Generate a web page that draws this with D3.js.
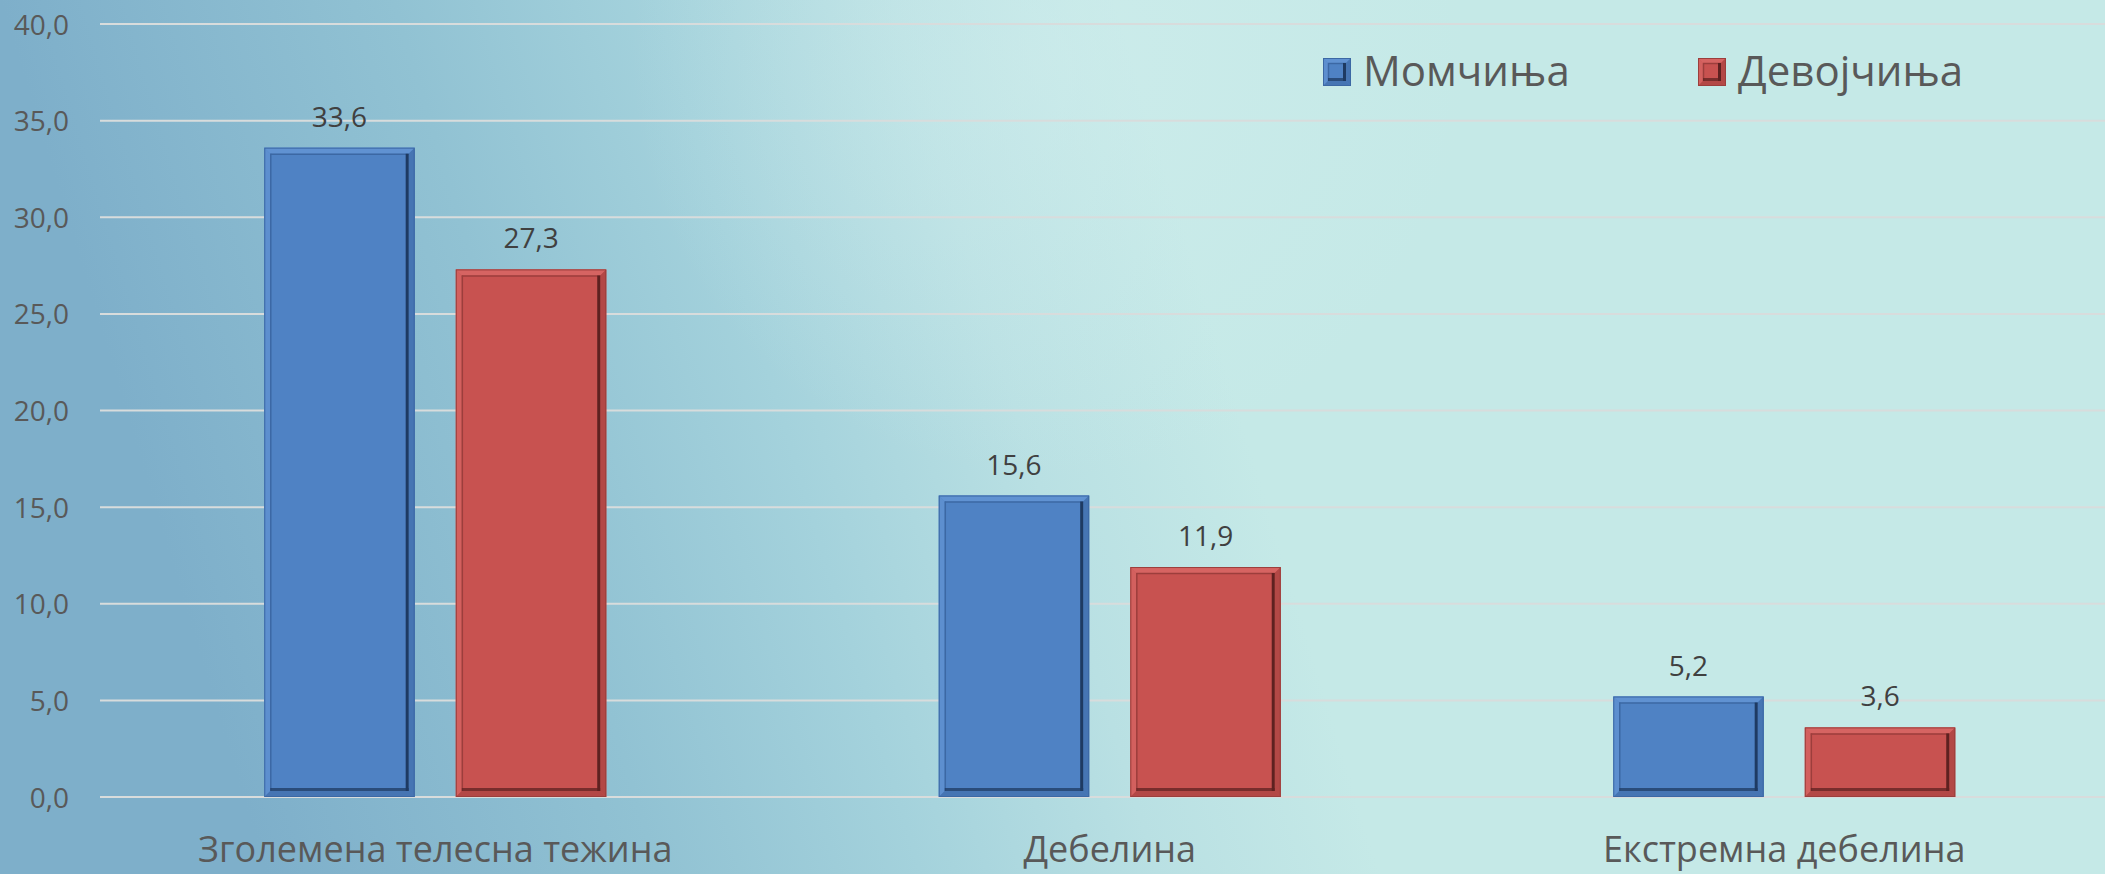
<!DOCTYPE html>
<html>
<head>
<meta charset="utf-8">
<script src="https://cdn.jsdelivr.net/npm/d3@7"></script>
<style>
  html, body { margin: 0; padding: 0; overflow: hidden; }
  svg { display: block; }
  text { font-family: "Open Sans", "Noto Sans", sans-serif; }
</style>
</head>
<body>
<svg id="chart" width="2105" height="874"></svg>
<script>
const categories = ["Зголемена телесна тежина", "Дебелина", "Екстремна дебелина"];
const seriesNames = ["Момчиња", "Девојчиња"];
const boys = [33.6, 15.6, 5.2];
const girls = [27.3, 11.9, 3.6];
const yTicks = [0, 5, 10, 15, 20, 25, 30, 35, 40];

const seriesValues = [boys, girls];
const colors = {
  "Момчиња": { face: "#4f82c4", light: "#6092d2", mid: "#4675b3", dark: "#1e3a62", edge: "#3c68a4" },
  "Девојчиња": { face: "#c85250", light: "#d66462", mid: "#b34846", dark: "#5e2120", edge: "#9c3e3c" }
};

const W = 2105, H = 874;
const svg = d3.select("#chart");
const fmt = v => d3.format(".1f")(v).replace(".", ",");

// background
const defs = svg.append("defs");
const bg = defs.append("linearGradient").attr("id", "bg")
  .attr("gradientUnits", "userSpaceOnUse")
  .attr("x1", 0).attr("y1", 0).attr("x2", 1200).attr("y2", -365);
[[0, "#7eafca"], [0.3, "#91c2d3"], [0.5, "#a4d2dc"], [0.68, "#b9e0e3"], [0.85, "#c5e9e7"], [1, "#c5e9e7"]]
  .forEach(([o, c]) => bg.append("stop").attr("offset", o).attr("stop-color", c));
const hl = defs.append("radialGradient").attr("id", "hl")
  .attr("gradientUnits", "userSpaceOnUse").attr("cx", 1050).attr("cy", 60).attr("r", 420);
hl.append("stop").attr("offset", 0).attr("stop-color", "#d2eeee").attr("stop-opacity", 0.5);
hl.append("stop").attr("offset", 1).attr("stop-color", "#d2eeee").attr("stop-opacity", 0);
svg.append("rect").attr("width", W).attr("height", H).attr("fill", "url(#bg)");
svg.append("rect").attr("width", W).attr("height", H).attr("fill", "url(#hl)");

// scales
const plotLeft = 98, plotRight = 2121.5;
const y = d3.scaleLinear().domain([0, 40]).range([797, 24]);
const x0 = d3.scaleBand().domain(categories).range([plotLeft, plotRight])
  .paddingInner(0.493).paddingOuter(0.2465);
const x1 = d3.scaleBand().domain(seriesNames).range([0, x0.bandwidth()])
  .paddingInner(0.2147).paddingOuter(0);

// gridlines
svg.append("g").selectAll("line").data(yTicks).join("line")
  .attr("x1", 100).attr("x2", W)
  .attr("y1", d => y(d)).attr("y2", d => y(d))
  .attr("stroke", "#d8dcdc").attr("stroke-width", 2);

// y axis labels
const yAxis = d3.axisLeft(y).tickValues(yTicks).tickFormat(fmt).tickSize(0).tickPadding(0);
const ya = svg.append("g").attr("transform", "translate(69,0)").call(yAxis);
ya.select(".domain").remove();
ya.selectAll("text").attr("font-family", "'Open Sans', sans-serif").attr("font-size", 28)
  .attr("fill", "#595959").attr("dy", "0.36em");

// bevelled bar
function bevelBar(g, bx, by, bw, bh, c, bev) {
  const b = Math.min(bev, bh / 2);
  g.append("rect").attr("x", bx).attr("y", by).attr("width", bw).attr("height", bh)
    .attr("fill", c.face);
  const pts = (arr) => arr.map(p => p.join(",")).join(" ");
  g.append("polygon").attr("points", pts([[bx, by], [bx + bw, by], [bx + bw - b, by + b], [bx + b, by + b]]))
    .attr("fill", c.light);
  g.append("polygon").attr("points", pts([[bx, by], [bx + b, by + b], [bx + b, by + bh - b], [bx, by + bh]]))
    .attr("fill", c.light).attr("opacity", 0.8);
  g.append("polygon").attr("points", pts([[bx + bw, by], [bx + bw, by + bh], [bx + bw - b, by + bh - b], [bx + bw - b, by + b]]))
    .attr("fill", c.mid);
  g.append("polygon").attr("points", pts([[bx, by + bh], [bx + bw, by + bh], [bx + bw - b, by + bh - b], [bx + b, by + bh - b]]))
    .attr("fill", c.mid);
  const lw = bev > 4 ? 3 : 1.5;
  g.append("line").attr("x1", bx + b).attr("x2", bx + bw - b).attr("y1", by + b + 0.5).attr("y2", by + b + 0.5)
    .attr("stroke", c.edge).attr("stroke-width", lw / 2);
  g.append("line").attr("x1", bx + b + 0.5).attr("x2", bx + b + 0.5).attr("y1", by + b).attr("y2", by + bh - b)
    .attr("stroke", c.edge).attr("stroke-width", lw / 2);
  g.append("line").attr("x1", bx + bw - b - lw / 2).attr("x2", bx + bw - b - lw / 2).attr("y1", by + b).attr("y2", by + bh - b)
    .attr("stroke", c.dark).attr("stroke-width", lw);
  g.append("line").attr("x1", bx + b).attr("x2", bx + bw - b).attr("y1", by + bh - b - lw / 2).attr("y2", by + bh - b - lw / 2)
    .attr("stroke", c.dark).attr("stroke-width", lw).attr("opacity", 0.75);
  g.append("rect").attr("x", bx + 0.5).attr("y", by + 0.5).attr("width", bw - 1).attr("height", bh - 1)
    .attr("fill", "none").attr("stroke", c.edge).attr("stroke-width", 1);
}

// bars
const barsG = svg.append("g");
categories.forEach((cat, i) => {
  seriesNames.forEach((s, j) => {
    const v = seriesValues[j][i];
    const bx = x0(cat) + x1(s), bw = x1.bandwidth();
    const by = y(v), bh = y(0) - y(v);
    bevelBar(barsG.append("g"), bx, by, bw, bh, colors[s], 6);
    barsG.append("text").attr("x", bx + bw / 2).attr("y", by - 21)
      .attr("text-anchor", "middle").attr("font-size", 28).attr("fill", "#404040")
      .text(fmt(v));
  });
});

// category labels
svg.append("g").selectAll("text").data(categories).join("text")
  .attr("x", d => x0(d) + x0.bandwidth() / 2).attr("y", 862)
  .attr("text-anchor", "middle").attr("font-size", 36).attr("fill", "#595959")
  .text(d => d);

// legend
const legendX = [1323, 1698];
const lg = svg.append("g");
seriesNames.forEach((s, j) => {
  bevelBar(lg.append("g"), legendX[j], 58, 28, 28, colors[s], 5);
  lg.append("text").attr("x", legendX[j] + 40).attr("y", 86)
    .attr("font-size", 42).attr("fill", "#595959").text(s);
});
</script>
</body>
</html>
